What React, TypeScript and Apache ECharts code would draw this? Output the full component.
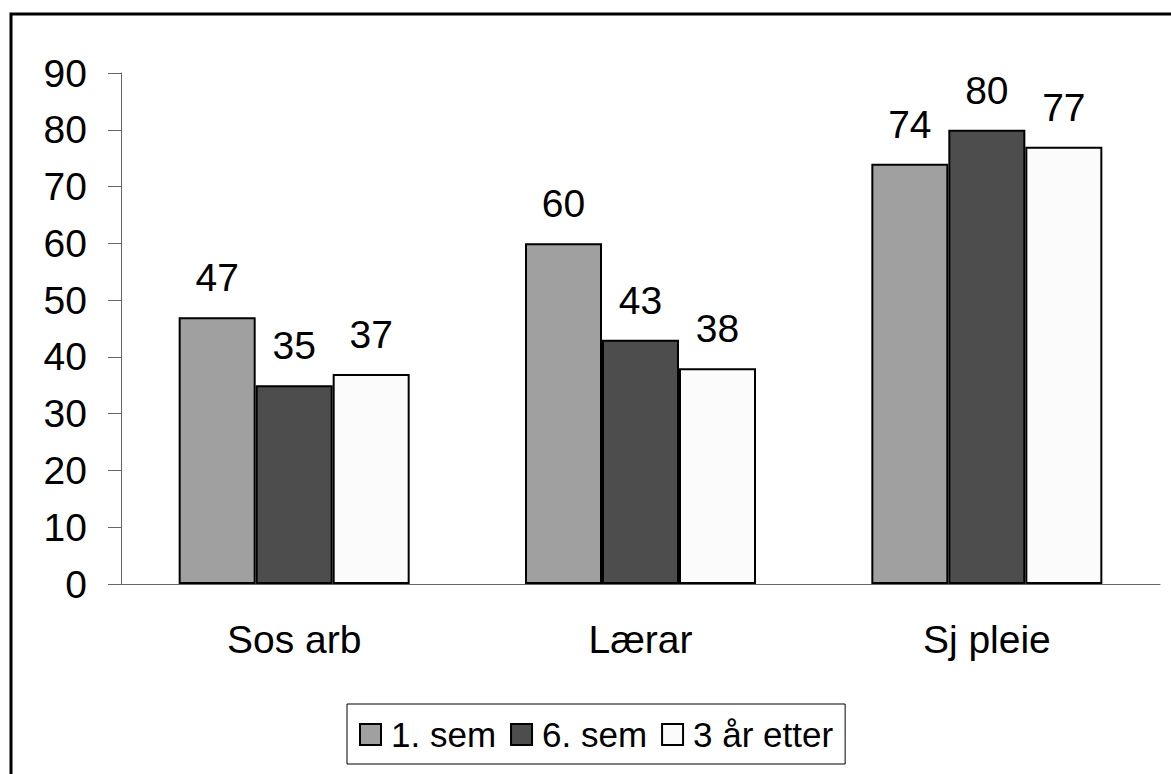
import React, { useEffect, useRef } from "react";
import * as echarts from "echarts";

const categories = ["Sos arb", "Lærar", "Sj pleie"];
const seriesNames = ["1. sem", "6. sem", "3 år etter"];
const sem1 = [47, 60, 74];
const sem6 = [35, 43, 80];
const yearsAfter = [37, 38, 77];
const yTicks = { min: 0, max: 90, interval: 10 };

const FONT = "'Liberation Sans', Arial, sans-serif";
const barColors = ["#a0a0a0", "#4d4d4d", "#fbfbfb"];

export default function App() {
  const ref = useRef<HTMLDivElement>(null);

  useEffect(() => {
    document.body.style.margin = "0";
    if (!ref.current) return;
    const chart = echarts.init(ref.current, undefined, { renderer: "svg" });
    const values = [sem1, sem6, yearsAfter];

    chart.setOption({
      animation: false,
      backgroundColor: "#ffffff",
      textStyle: { fontFamily: FONT, color: "#000" },
      grid: { left: 121, right: 11, top: 73, bottom: 190, containLabel: false },
      graphic: [
        {
          type: "rect",
          shape: { x: 11, y: 14, width: 1300, height: 900 },
          style: { fill: "none", stroke: "#000", lineWidth: 3 },
          silent: true,
          z: 100,
        },
      ],
      legend: {
        left: 347,
        top: 704,
        itemWidth: 21,
        itemHeight: 21,
        itemGap: 14,
        padding: [13, 12, 12, 12],
        borderColor: "#000",
        borderWidth: 1,
        icon: "rect",
        textStyle: { fontFamily: FONT, fontSize: 35, color: "#000", padding: [0, 0, 0, 5] },
        data: seriesNames,
      },
      xAxis: {
        type: "category",
        data: categories,
        boundaryGap: true,
        axisLine: { lineStyle: { color: "#666", width: 1 } },
        axisTick: { length: 13, lineStyle: { color: "#666" } },
        axisLabel: { fontFamily: FONT, fontSize: 39, color: "#000", margin: 36 },
      },
      yAxis: {
        type: "value",
        min: yTicks.min,
        max: yTicks.max,
        interval: yTicks.interval,
        splitLine: { show: false },
        axisLine: { show: true, lineStyle: { color: "#666", width: 1 } },
        axisTick: { show: true, length: 13, lineStyle: { color: "#666" } },
        axisLabel: { fontFamily: FONT, fontSize: 39, color: "#000", margin: 34 },
      },
      series: seriesNames.map((name, i) => ({
        name,
        type: "bar",
        data: values[i],
        barGap: "0%",
        barCategoryGap: "33.3%",
        itemStyle: { color: barColors[i], borderColor: "#000", borderWidth: 2 },
        label: {
          show: true,
          position: "top",
          distance: 20,
          fontFamily: FONT,
          fontSize: 39,
          color: "#000",
        },
      })),
    });

    return () => chart.dispose();
  }, []);

  return <div ref={ref} style={{ width: 1171, height: 774 }} />;
}
